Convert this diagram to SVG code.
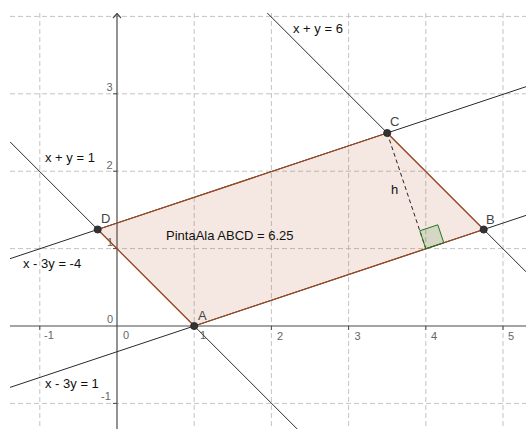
<svg xmlns="http://www.w3.org/2000/svg" width="526" height="429" viewBox="0 0 526 429">
<style>
.grid{stroke:#c4c4c4;stroke-width:1;stroke-dasharray:5,3;fill:none}
.axis{stroke:#4a4a4a;stroke-width:1.2;fill:none}
.tick{stroke:#4a4a4a;stroke-width:1}
.ln{stroke:#2a2a2a;stroke-width:1;fill:none}
.num{font-family:"Liberation Sans",Arial,sans-serif;font-size:11px;fill:#666}
.lbl{font-family:"Liberation Sans",Arial,sans-serif;font-size:13px;fill:#111}
.pt{font-family:"Liberation Sans",Arial,sans-serif;font-size:13px;fill:#444}
.dot{fill:#333;stroke:#222;stroke-width:0.8}
</style>
<defs>
<clipPath id="view"><rect x="10" y="13" width="516" height="416"/></clipPath>
</defs>
<rect width="526" height="429" fill="#fff"/>
<g clip-path="url(#view)">
<g id="grid">
<line class="grid" x1="39.8" y1="13" x2="39.8" y2="429"/>
<line class="grid" x1="194.2" y1="13" x2="194.2" y2="429"/>
<line class="grid" x1="271.4" y1="13" x2="271.4" y2="429"/>
<line class="grid" x1="348.6" y1="13" x2="348.6" y2="429"/>
<line class="grid" x1="425.8" y1="13" x2="425.8" y2="429"/>
<line class="grid" x1="503" y1="13" x2="503" y2="429"/>
<line class="grid" x1="10" y1="16.4" x2="526" y2="16.4"/>
<line class="grid" x1="10" y1="93.8" x2="526" y2="93.8"/>
<line class="grid" x1="10" y1="171.2" x2="526" y2="171.2"/>
<line class="grid" x1="10" y1="248.6" x2="526" y2="248.6"/>
<line class="grid" x1="10" y1="403.4" x2="526" y2="403.4"/>
</g>
<g id="axes">
<line class="axis" x1="10" y1="326" x2="526" y2="326"/>
<line class="axis" x1="117" y1="429" x2="117" y2="13.5"/>
<path class="axis" d="M113,18 L117,13.5 L121,18"/>
<g class="tick">
<line x1="39.8" y1="326" x2="39.8" y2="330"/>
<line x1="194.2" y1="326" x2="194.2" y2="330"/>
<line x1="271.4" y1="326" x2="271.4" y2="330"/>
<line x1="348.6" y1="326" x2="348.6" y2="330"/>
<line x1="425.8" y1="326" x2="425.8" y2="330"/>
<line x1="503" y1="326" x2="503" y2="330"/>
<line x1="113" y1="93.8" x2="117" y2="93.8"/>
<line x1="113" y1="171.2" x2="117" y2="171.2"/>
<line x1="113" y1="248.6" x2="117" y2="248.6"/>
<line x1="113" y1="403.4" x2="117" y2="403.4"/>
</g>
<text class="num" x="106.5" y="91">3</text>
<text class="num" x="106.5" y="169">2</text>
<text class="num" x="107" y="246">1</text>
<text class="num" x="107" y="323">0</text>
<text class="num" x="101" y="400">-1</text>
<text class="num" x="44" y="339">-1</text>
<text class="num" x="123" y="339">0</text>
<text class="num" x="200" y="339">1</text>
<text class="num" x="277" y="340">2</text>
<text class="num" x="354.5" y="340">3</text>
<text class="num" x="431" y="340">4</text>
<text class="num" x="508" y="340">5</text>
</g>
<g id="connectors">
<line id="l1" class="ln" x1="10" y1="141.8" x2="297.2" y2="429"/>
<line id="l6" class="ln" x1="267.3" y1="13" x2="526" y2="271.8"/>
<line id="lm4" class="ln" x1="10" y1="258.7" x2="526" y2="86.7"/>
<line id="lp1" class="ln" x1="10" y1="387.4" x2="526" y2="215.4"/>
</g>
</g>
<g id="polygon">
<polygon points="194.2,326 483.7,229.5 387.2,133 97.7,229.5" fill="#b04a20" fill-opacity="0.13" stroke="#9c4a22" stroke-width="1.3" stroke-linejoin="round"/>
</g>
<g id="height">
<line x1="387.2" y1="133" x2="425.8" y2="248.8" stroke="#222" stroke-width="1" stroke-dasharray="4,3"/>
<polygon points="425.8,248.8 443.8,242.8 437.8,224.8 419.8,230.8" fill="#006400" fill-opacity="0.13" stroke="#1f7a1f" stroke-width="1"/>
<text class="lbl" x="391" y="194">h</text>
</g>
<g id="A"><circle class="dot" cx="194.2" cy="326" r="3.6"/><text class="pt" x="198" y="320">A</text></g>
<g id="B"><circle class="dot" cx="483.7" cy="229.5" r="3.6"/><text class="pt" x="486" y="224">B</text></g>
<g id="C"><circle class="dot" cx="387.2" cy="133" r="3.6"/><text class="pt" x="390" y="126">C</text></g>
<g id="D"><circle class="dot" cx="97.7" cy="229.5" r="3.6"/><text class="pt" x="101" y="223">D</text></g>
<g id="labels">
<text class="lbl" x="293" y="33">x + y = 6</text>
<text class="lbl" x="45" y="162">x + y = 1</text>
<text class="lbl" x="23" y="268">x - 3y = -4</text>
<text class="lbl" x="45" y="388">x - 3y = 1</text>
<text class="lbl" x="166" y="240">PintaAla ABCD = 6.25</text>
</g>
</svg>
